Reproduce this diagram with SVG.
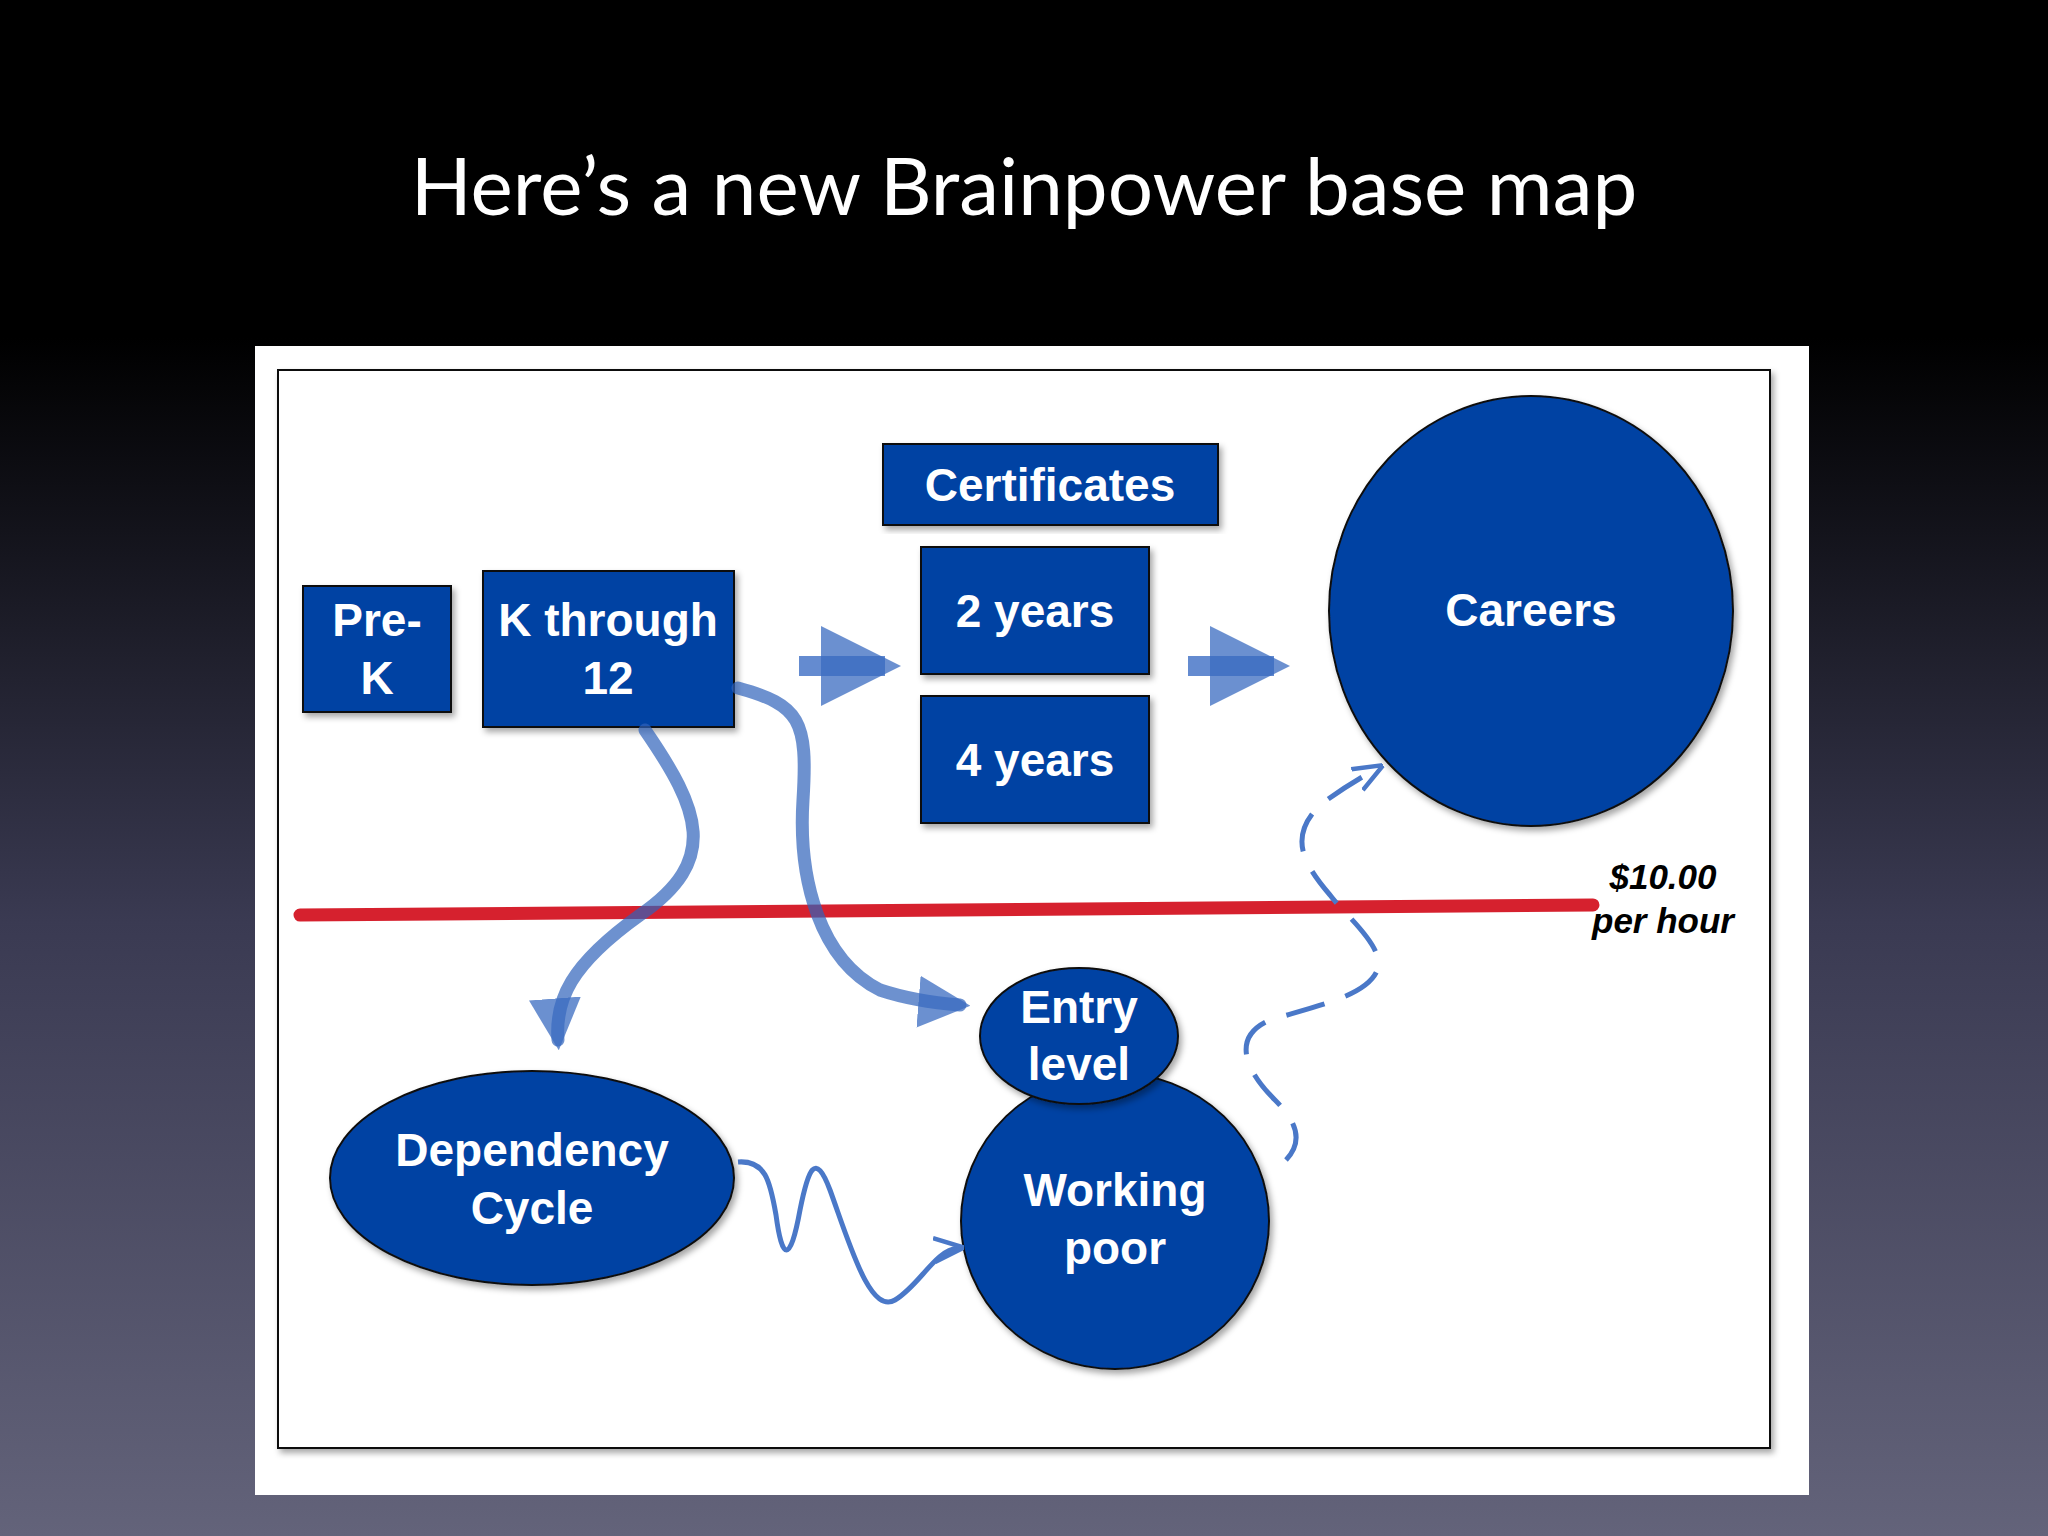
<svg xmlns="http://www.w3.org/2000/svg" width="2048" height="1536" viewBox="0 0 2048 1536">
<defs>
<linearGradient id="bg" x1="0" y1="0" x2="0" y2="1">
<stop offset="0" stop-color="#000"/><stop offset="0.22" stop-color="#000"/><stop offset="0.6" stop-color="#3a3a52"/><stop offset="1" stop-color="#63637a"/>
</linearGradient>
<marker id="ah" viewBox="0 0 10 10" refX="8" refY="5" markerWidth="4" markerHeight="4" orient="auto" markerUnits="strokeWidth"><path d="M0,0 L10,5 L0,10 Z" fill="#3a6bc0" fill-opacity="0.75"/></marker>
<marker id="ah2" viewBox="0 0 10 10" refX="8" refY="5" markerWidth="6" markerHeight="6" orient="auto" markerUnits="strokeWidth"><path d="M0,1 L10,5 L0,9" fill="none" stroke="#4a78c8" stroke-width="1.5"/></marker>
<filter id="sh"><feDropShadow dx="3" dy="4" stdDeviation="3" flood-opacity="0.35"/></filter>
</defs>
<style>
.box{fill:#0443a3;stroke:#111;stroke-width:2;filter:url(#sh)}
.t{font-family:"Liberation Sans",Arial,sans-serif;font-weight:bold;fill:#fff;font-size:46px;text-anchor:middle}
.flow{fill:none;stroke:#2f62bb;stroke-opacity:0.7;stroke-width:13;stroke-linecap:round}
</style>
<rect width="2048" height="1536" fill="url(#bg)"/>
<text x="1024" y="215" font-family="Lato,'Open Sans',sans-serif" font-size="80" fill="#fff" text-anchor="middle">Here’s a new Brainpower base map</text>
<rect x="255" y="346" width="1554" height="1149" fill="#fff"/>
<rect x="278" y="370" width="1492" height="1078" fill="#fff" stroke="#111" stroke-width="2" filter="url(#sh)"/>
<line x1="300" y1="915" x2="1593" y2="905" stroke="#d6212e" stroke-width="13" stroke-linecap="round"/>
<g id="prek"><rect class="box" x="303" y="586" width="148" height="126"/><text class="t" x="377" y="636">Pre-</text><text class="t" x="377" y="694">K</text></g>
<g id="k12"><rect class="box" x="483" y="571" width="251" height="156"/><text class="t" x="608" y="636">K through</text><text class="t" x="608" y="694">12</text></g>
<g id="cert"><rect class="box" x="883" y="444" width="335" height="81"/><text class="t" x="1050" y="501">Certificates</text></g>
<g id="y2"><rect class="box" x="921" y="547" width="228" height="127"/><text class="t" x="1035" y="627">2 years</text></g>
<g id="y4"><rect class="box" x="921" y="696" width="228" height="127"/><text class="t" x="1035" y="776">4 years</text></g>
<g id="careers"><ellipse class="box" cx="1531" cy="611" rx="202" ry="215"/><text class="t" x="1531" y="626">Careers</text></g>
<g id="dep"><ellipse class="box" cx="532" cy="1178" rx="202" ry="107"/><text class="t" x="532" y="1166">Dependency</text><text class="t" x="532" y="1224">Cycle</text></g>
<g id="wp"><ellipse class="box" cx="1115" cy="1221" rx="154" ry="148"/><text class="t" x="1115" y="1206">Working</text><text class="t" x="1115" y="1264">poor</text></g>
<g id="entry"><ellipse class="box" cx="1079" cy="1036" rx="99" ry="68"/><text class="t" x="1079" y="1023">Entry</text><text class="t" x="1079" y="1080">level</text></g>
<g id="wage" font-family="'Liberation Sans',Arial,sans-serif" font-weight="bold" font-style="italic" font-size="35" text-anchor="middle"><text x="1663" y="889">$10.00</text><text x="1663" y="933">per hour</text></g>
<g id="connectors">
<path d="M799,666 H885" stroke="#3d6ec4" stroke-opacity="0.8" stroke-width="20" marker-end="url(#ah)"/>
<path d="M1188,666 H1274" stroke="#3d6ec4" stroke-opacity="0.8" stroke-width="20" marker-end="url(#ah)"/>
<path class="flow" d="M645,730 C700,810 720,860 640,915 C570,965 555,1000 558,1040" marker-end="url(#ah)"/>
<path class="flow" d="M738,688 C800,705 808,720 803,800 C798,880 820,960 880,990 C910,1000 935,1003 960,1005" marker-end="url(#ah)"/>
<path d="M738,1162 C765,1160 770,1180 776,1215 C782,1260 790,1265 800,1210 C808,1170 815,1150 830,1190 C850,1245 870,1315 895,1300 C920,1285 935,1250 958,1248" fill="none" stroke="#4a78c8" stroke-width="5" marker-end="url(#ah2)"/>
<path d="M1286,1160 C1305,1140 1295,1120 1275,1100 C1240,1065 1235,1035 1270,1020 C1320,1005 1370,995 1378,968 C1383,945 1345,915 1330,895 C1300,860 1290,835 1320,805 C1340,790 1360,778 1378,768" fill="none" stroke="#4a78c8" stroke-width="5" stroke-dasharray="40,22" marker-end="url(#ah2)"/>
</g>
</svg>
